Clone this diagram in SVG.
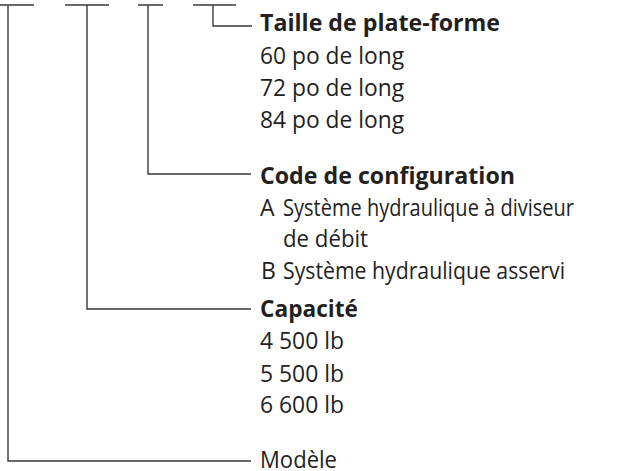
<svg xmlns="http://www.w3.org/2000/svg" width="620" height="471" viewBox="0 0 620 471">
<style>
.c{fill:none;stroke:#3a3a3a;stroke-width:1.4}
text{font-family:"Open Sans","Noto Sans",sans-serif;font-size:23px;fill:#231f20}
.b{font-weight:bold}
</style>
<rect width="620" height="471" fill="#fff"/>
<g id="connectors">
<path class="c" d="M0 5H34M8 5V461H251"/>
<path class="c" d="M65 5H109M87 5V309H251"/>
<path class="c" d="M138 5H163M148 5V174H251"/>
<path class="c" d="M193 5H236M213 5V26H252"/>
</g>
<g id="taille">
<text x="260" y="31" class="b" textLength="240" lengthAdjust="spacingAndGlyphs">Taille de plate-forme</text>
<text x="260" y="64" textLength="144" lengthAdjust="spacingAndGlyphs">60 po de long</text>
<text x="260" y="96" textLength="144" lengthAdjust="spacingAndGlyphs">72 po de long</text>
<text x="260" y="128" textLength="144" lengthAdjust="spacingAndGlyphs">84 po de long</text>
</g>
<g id="code">
<text x="260" y="184" class="b" textLength="255" lengthAdjust="spacingAndGlyphs">Code de configuration</text>
<text x="260" y="216">A</text><text x="283" y="216" textLength="291" lengthAdjust="spacingAndGlyphs">Système hydraulique à diviseur</text>
<text x="283" y="247" textLength="85" lengthAdjust="spacingAndGlyphs">de débit</text>
<text x="261" y="279">B</text><text x="283" y="279" textLength="282" lengthAdjust="spacingAndGlyphs">Système hydraulique asservi</text>
</g>
<g id="capacite">
<text x="260" y="317" class="b" textLength="98" lengthAdjust="spacingAndGlyphs">Capacité</text>
<text x="260" y="349" textLength="84" lengthAdjust="spacingAndGlyphs">4 500 lb</text>
<text x="260" y="382" textLength="84" lengthAdjust="spacingAndGlyphs">5 500 lb</text>
<text x="260" y="413" textLength="84" lengthAdjust="spacingAndGlyphs">6 600 lb</text>
</g>
<g id="modele">
<text x="260" y="468" textLength="77" lengthAdjust="spacingAndGlyphs">Modèle</text>
</g>
</svg>
